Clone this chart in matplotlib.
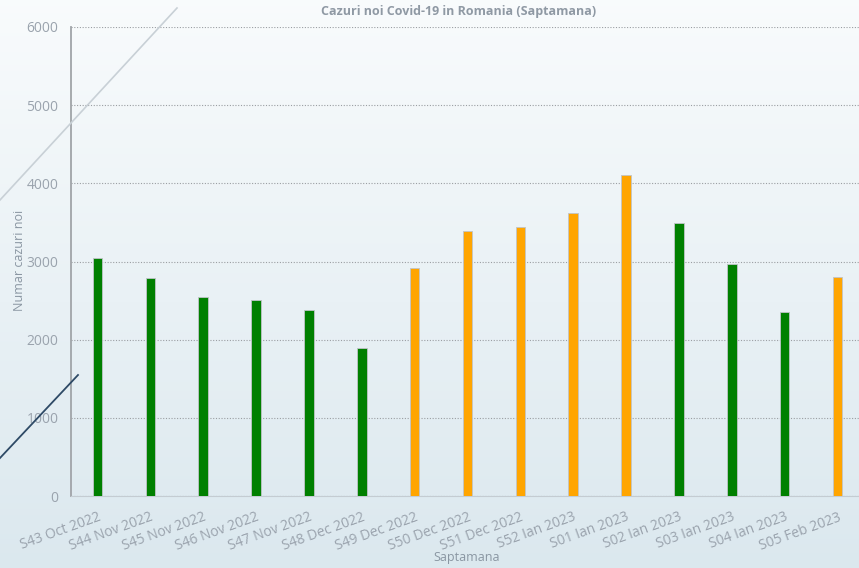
import numpy as np
import matplotlib.pyplot as plt
from matplotlib.lines import Line2D

weeks = ['S43 Oct 2022', 'S44 Nov 2022', 'S45 Nov 2022', 'S46 Nov 2022', 'S47 Nov 2022',
         'S48 Dec 2022', 'S49 Dec 2022', 'S50 Dec 2022', 'S51 Dec 2022', 'S52 Ian 2023',
         'S01 Ian 2023', 'S02 Ian 2023', 'S03 Ian 2023', 'S04 Ian 2023', 'S05 Feb 2023']
cases = [3044, 2788, 2545, 2506, 2379, 1893, 2916, 3389, 3440, 3619, 4105, 3491, 2967, 2353, 2800]
rising = [False, False, False, False, False, False, True, True, True, True, True,
          False, False, False, True]
yticks = [0, 1000, 2000, 3000, 4000, 5000, 6000]

plt.rcParams['font.family'] = ['Open Sans', 'DejaVu Sans']
txt = '#9aa3ad'

fig = plt.figure(figsize=(8.59, 5.68), dpi=100)

# background gradient
bg = fig.add_axes([0, 0, 1, 1], zorder=-10)
grad = np.linspace(0, 1, 256).reshape(-1, 1)
c_top = np.array([0.975, 0.985, 0.99])
c_bot = np.array([0.86, 0.91, 0.935])
img = c_top + (c_bot - c_top) * grad[:, :, None]
bg.imshow(img, aspect='auto', extent=[0, 1, 0, 1])
bg.axis('off')

# decorative lines
W, H = 859, 568
fig.add_artist(Line2D([0 / W, 177 / W], [1 - 200 / H, 1 - 8 / H], color='#c8d0d6', lw=1.2))
fig.add_artist(Line2D([0 / W, 78 / W], [1 - 458 / H, 1 - 375 / H], color='#2e4a66', lw=1.3))

ax = fig.add_axes([71 / W, 1 - 496 / H, (864 - 71) / W, (496 - 27) / H])
ax.patch.set_alpha(0)

x = np.arange(len(weeks))
colors = ['#ffa500' if r else '#008000' for r in rising]
ax.bar(x, cases, width=0.18, color=colors, edgecolor='#c0c4c8', linewidth=0.6, zorder=3)

ax.set_xlim(-0.5, len(weeks) - 0.5)
ax.set_ylim(0, 6000)
ax.set_yticks(yticks)
ax.yaxis.grid(True, linestyle=(0, (1, 1.5)), color='#9a9ea2', linewidth=0.8, zorder=0)
ax.set_xticks(x)
ax.set_xticklabels(weeks, rotation=20, ha='right', rotation_mode='anchor')
ax.tick_params(axis='both', length=0, colors=txt, labelsize=10)
ax.tick_params(axis='x', pad=10)
ax.tick_params(axis='y', pad=9)

for s in ['top', 'right']:
    ax.spines[s].set_visible(False)
ax.spines['left'].set_color('#a0a4a8')
ax.spines['left'].set_linewidth(1.3)
ax.spines['bottom'].set_color('#c4ccd2')

fig.text(0.5 * (71 + 864) / W - 0.01, 1 - 11 / H, 'Cazuri noi Covid-19 in Romania (Saptamana)',
         ha='center', va='center', fontsize=9, fontweight='bold', color='#8f99a4')
fig.text(20 / W, 1 - 260 / H, 'Numar cazuri noi', rotation=90, ha='center', va='center',
         fontsize=9, color='#8a96a2')
fig.text(467 / W, 1 - 557 / H, 'Saptamana', ha='center', va='center', fontsize=9, color='#8a96a2')

fig.savefig('out.png', dpi=100)
